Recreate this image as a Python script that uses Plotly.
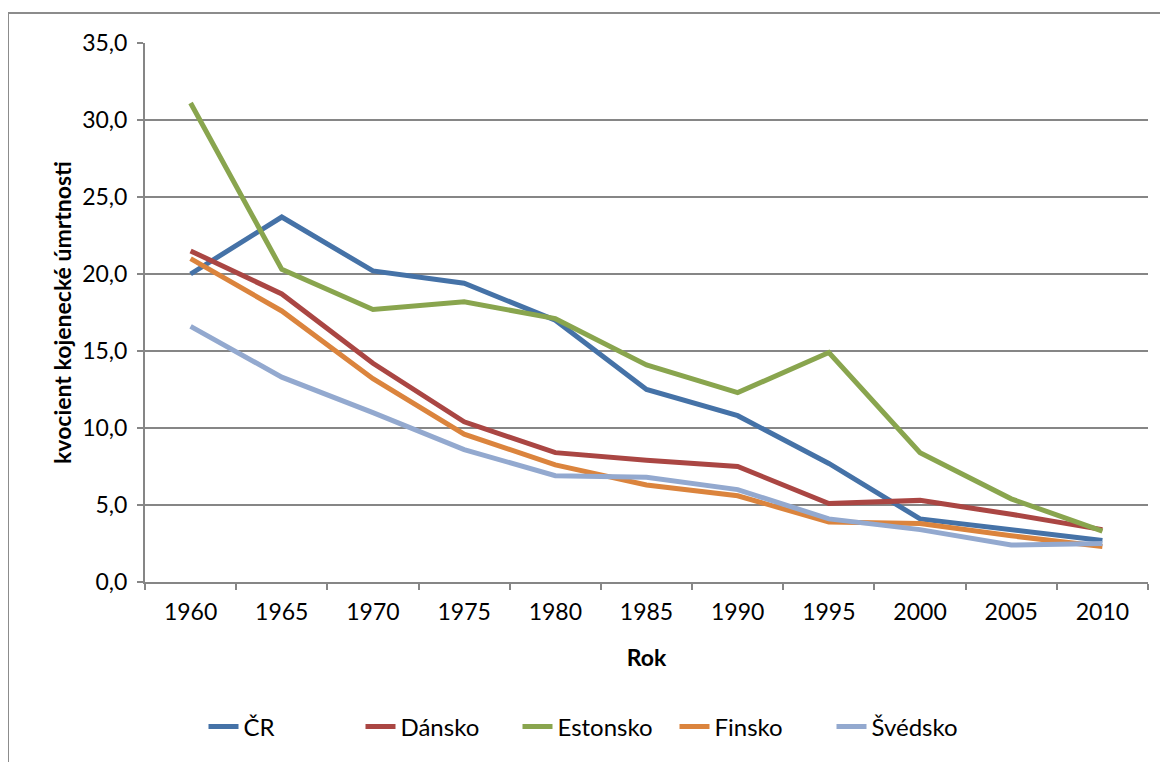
import plotly.graph_objects as go

years = ["1960", "1965", "1970", "1975", "1980", "1985", "1990", "1995", "2000", "2005", "2010"]
cr = [20.0, 23.7, 20.2, 19.4, 17.0, 12.5, 10.8, 7.7, 4.1, 3.4, 2.7]
dansko = [21.5, 18.7, 14.2, 10.4, 8.4, 7.9, 7.5, 5.1, 5.3, 4.4, 3.4]
estonsko = [31.1, 20.3, 17.7, 18.2, 17.1, 14.1, 12.3, 14.9, 8.4, 5.4, 3.3]
finsko = [21.0, 17.6, 13.2, 9.6, 7.6, 6.3, 5.6, 3.9, 3.8, 3.0, 2.3]
svedsko = [16.6, 13.3, 11.0, 8.6, 6.9, 6.8, 6.0, 4.1, 3.4, 2.4, 2.5]

series = [
    ("ČR", cr, "#4572A7"),
    ("Dánsko", dansko, "#AA4643"),
    ("Estonsko", estonsko, "#89A54E"),
    ("Finsko", finsko, "#DB843D"),
    ("Švédsko", svedsko, "#93A9CF"),
]

FONT = "Lato"
AX = "#868686"
fig = go.Figure()
for name, vals, col in series:
    fig.add_trace(go.Scatter(x=years, y=vals, name=name, mode="lines",
                             line=dict(color=col, width=5)))

# figure is placed at (8, 8) in the page (default body margin)
W, H = 1160, 754
L, R, T, B = 137, 20, 35, 180
pw, ph = W - L - R, H - T - B

def px(x):
    return (x - L) / pw

def py(y):
    return (H - B - y) / ph

fig.add_shape(type="rect", xref="paper", yref="paper",
              x0=px(0), x1=px(1180), y0=py(775), y1=py(5),
              line=dict(color="#8c8c8c", width=2), fillcolor="rgba(0,0,0,0)", layer="below")

fig.update_layout(
    width=W, height=H,
    margin=dict(l=L, r=R, t=T, b=B),
    paper_bgcolor="white", plot_bgcolor="white",
    font=dict(family=FONT, size=23, color="black"),
    showlegend=True,
    legend=dict(orientation="h", x=px(588), xanchor="center", y=py(719), yanchor="middle",
                font=dict(family=FONT, size=24), entrywidth=112, entrywidthmode="pixels",
                bgcolor="rgba(0,0,0,0)"),
    xaxis=dict(type="category", range=[-0.5, 10.5], tickson="boundaries",
               ticks="outside", ticklen=6, tickcolor=AX, tickwidth=2,
               showline=True, linecolor=AX, linewidth=2, showgrid=False,
               ticklabelstandoff=8,
               title=dict(text="<b>Rok</b>", font=dict(family=FONT, size=23), standoff=26),
               tickfont=dict(family=FONT, size=23)),
    yaxis=dict(range=[0, 35], dtick=5, tickformat=".1f",
               ticks="outside", ticklen=6, tickcolor=AX, tickwidth=2,
               showline=True, linecolor=AX, linewidth=2,
               showgrid=True, gridcolor=AX, gridwidth=2, zeroline=False,
               ticklabelstandoff=5,
               title=dict(text="<b>kvocient kojenecké úmrtnosti</b>", font=dict(family=FONT, size=23), standoff=4),
               tickfont=dict(family=FONT, size=23)),
    separators=", ",
)

fig.write_html("out.html")
